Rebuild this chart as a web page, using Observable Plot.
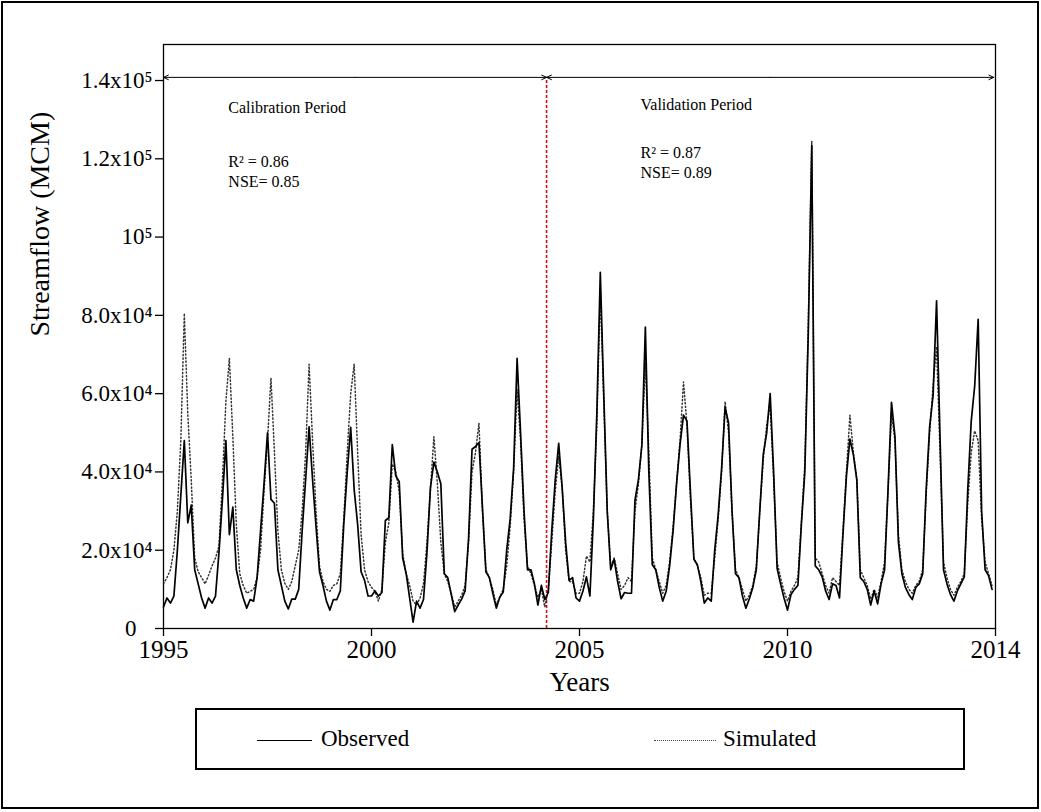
<!DOCTYPE html>
<html>
<head>
<meta charset="utf-8">
<script src="https://cdn.jsdelivr.net/npm/d3@7"></script>
<script src="https://cdn.jsdelivr.net/npm/@observablehq/plot@0.6"></script>
<style>
  html, body { margin: 0; padding: 0; background: #fff; }
  #wrap { position: relative; width: 1041px; height: 812px; overflow: hidden; font-family: "Liberation Serif", "Times New Roman", serif; }
  #border { position: absolute; left: 1px; top: 1px; width: 1038px; height: 808px; border: 2px solid #000; box-sizing: border-box; pointer-events: none; }
  #chart { position: absolute; left: 0; top: 0; }
  #legend { position: absolute; left: 195px; top: 708px; width: 770px; height: 62px; border: 2px solid #000; box-sizing: border-box; background: #fff; }
  .lg-line { position: absolute; top: 30px; height: 0; }
  .lg-text { position: absolute; top: 14px; font-size: 23px; line-height: 30px; color: #000; }
</style>
</head>
<body>
<div id="wrap">
  <div id="chart"></div>
  <div id="legend">
    <div class="lg-line" style="left:60px;width:55px;border-top:1.6px solid #000;"></div>
    <div class="lg-text" style="left:124px;">Observed</div>
    <div class="lg-line" style="left:457px;width:62px;border-top:1.5px dotted #444;"></div>
    <div class="lg-text" style="left:526px;">Simulated</div>
  </div>
  <div id="border"></div>
</div>
<script>
// Monthly streamflow (thousand MCM), Jan 1995 .. Dec 2014 (month index 0..239)
const observed = [
  5.5, 7.8, 6.5, 8.3, 20, 34, 48, 27, 31.5, 15, 11.4, 7.8,
  5.2, 7.8, 6.5, 8.3, 19.4, 33, 48, 24, 31, 15, 11, 7.8,
  5.2, 7.4, 7, 13, 25, 37, 50, 33, 32, 15, 11, 7,
  5, 7.5, 7.5, 10, 25, 38, 51.5, 38, 26, 14.5, 11, 7,
  4.7, 7.4, 7.4, 9.6, 26.6, 40, 51.4, 35.5, 26.6, 14.5, 12.3, 8.3,
  8.3, 9.6, 8.3, 9.2, 27.6, 28.3, 47, 39, 37.5, 18, 14, 7.8,
  1.6, 7, 5.2, 7.4, 19.4, 36, 42.5, 40, 37, 14, 13, 8.7,
  4.3, 6, 7.5, 9.6, 23, 45.8, 46.5, 47.5, 31, 14.5, 13, 9,
  5.2, 8, 9.3, 20, 28, 41, 69, 50, 30, 15, 15, 11.4,
  6, 11, 7.4, 9.2, 25, 38, 47.3, 36, 22, 12.3, 13, 7.8,
  7, 9.6, 13.2, 8.3, 28, 55, 91, 60, 30, 15, 17.7, 12,
  7.6, 9.2, 9, 9, 32.8, 38, 47, 77, 40, 16.3, 15, 10.5,
  7, 9.5, 16, 25, 37, 47, 54.5, 53, 35, 17.7, 16.3, 12,
  6.5, 7.8, 7, 20, 29, 41, 56.5, 52.5, 30, 14, 13, 8.3,
  5.2, 7.6, 10.5, 15, 30, 44.4, 50, 60, 40, 15.4, 11.4, 7.8,
  4.7, 8.7, 10, 11, 26.6, 40, 75.6, 123.4, 16, 15, 13.2, 9.6,
  7.4, 11.4, 11, 7.8, 24, 39, 48.4, 44.4, 38, 13, 12, 10,
  6, 9.6, 6.3, 11.4, 15, 35.5, 57.8, 49, 22, 14, 10.5, 8.7,
  7.4, 10.5, 11.4, 14, 35.5, 51.5, 59.6, 83.7, 49, 15, 11.4, 8.7,
  7, 9.6, 11.4, 13.2, 35.5, 53, 62, 79, 30, 15, 13.5, 10
];
const simulated = [
  11.4, 13, 15, 20, 30, 48, 80.5, 55, 38, 18, 14.5, 13,
  11.4, 13.6, 16, 18, 21, 38, 58, 69, 49, 26.6, 14, 11,
  9, 9.5, 10, 13, 20, 35, 48, 64, 45, 25, 15, 11.5,
  10, 12, 16, 20, 30, 45, 67.5, 48, 30, 16, 12, 10,
  9.5, 11, 11.4, 14, 28, 45, 60, 67.6, 45, 24, 15, 12,
  10.5, 9.5, 7, 10, 22, 27, 42, 40, 35, 19, 14, 11,
  7, 6, 7.8, 11.4, 22, 35.5, 49, 37, 22, 14, 12, 9,
  5.5, 7, 8.5, 11, 22, 40, 45, 52.5, 30, 15, 13, 10,
  6, 8, 10, 16, 26, 40, 61, 48, 28, 16, 14, 11,
  8, 10, 5.5, 10, 22, 35, 44, 36, 20, 12, 12, 9,
  9, 12, 18.5, 17, 30, 52, 86, 58, 30, 16, 18, 14,
  10, 11, 13, 12, 30, 37, 47, 68, 45, 18, 15, 12,
  9, 11, 17, 26, 37, 48, 63, 52, 33, 18, 16, 13,
  8.5, 9, 9, 18, 28, 40, 58, 50, 30, 15, 13, 10,
  7, 8.5, 11, 16, 30, 43, 52, 57, 38, 17, 13, 9.5,
  7, 9.5, 11, 13, 27, 42, 78, 124.5, 18, 17, 14, 11,
  9, 13, 12, 11, 25, 40, 54.5, 45, 38, 15, 13, 11,
  7.5, 10, 8, 12, 17, 35, 55, 48, 24, 15, 12, 10,
  9, 11, 12, 15, 34, 50, 62, 72, 45, 17, 13, 10,
  8.5, 10.5, 12, 14, 32, 45, 50.5, 48, 28, 17, 14, 11
];
const xTicks = [0, 60, 120, 180, 240];
const xTickLabels = ["1995", "2000", "2005", "2010", "2014"];
const yTicks = [0, 20, 40, 60, 80, 100, 120, 140];
const yTickLabels = ["0", "2.0x10\u2074", "4.0x10\u2074", "6.0x10\u2074", "8.0x10\u2074", "10\u2075", "1.2x10\u2075", "1.4x10\u2075"];
const splitMonth = [110.5];
const periodTop = 140.8;
const periods = [{from: 0, to: 110.5}, {from: 110.5, to: 239.5}];
const notes = [
  {x: 18.7, y: 133.1, text: "Calibration Period"},
  {x: 18.7, y: 119.3, text: "R\u00B2 = 0.86"},
  {x: 18.7, y: 114.2, text: "NSE= 0.85"},
  {x: 137.6, y: 133.9, text: "Validation Period"},
  {x: 137.6, y: 121.4, text: "R\u00B2 = 0.87"},
  {x: 137.6, y: 116.5, text: "NSE= 0.89"}
];

const obsData = observed.map((v, i) => ({m: i, v}));
const simData = simulated.map((v, i) => ({m: i, v}));
const arrows = periods.flatMap(p => {
  const mid = (p.from + p.to) / 2;
  return [{x1: mid, x2: p.from}, {x1: mid, x2: p.to}];
});
const yLabel = d => yTickLabels[yTicks.indexOf(d)];

const chart = Plot.plot({
  width: 1041,
  height: 700,
  marginLeft: 163,
  marginRight: 46,
  marginTop: 44,
  marginBottom: 72,
  style: {fontFamily: "'Liberation Serif', 'Times New Roman', serif", background: "transparent", color: "#000"},
  x: {domain: [0, 240]},
  y: {domain: [0, 149.2]},
  marks: [
    Plot.frame({stroke: "#000", strokeWidth: 1.3}),
    Plot.axisX({ticks: xTicks, tickFormat: d => xTickLabels[xTicks.indexOf(d)], tickSize: 8, tickPadding: 4, fontSize: 25, label: null, stroke: "#000", strokeWidth: 1.3}),
    Plot.axisY({ticks: yTicks.slice(1), tickFormat: yLabel, tickSize: 8, tickPadding: 3, fontSize: 23, label: null, stroke: "#000", strokeWidth: 1.3}),
    Plot.tickY(yTicks.slice(0, 1), {y: d => d, stroke: "#000", strokeWidth: 1.3, insetLeft: -8, insetRight: 832}),
    Plot.axisY({ticks: yTicks.slice(0, 1), tickFormat: yLabel, tickSize: 0, tickPadding: 27, fontSize: 23, label: null}),
    Plot.text(["Years"], {frameAnchor: "bottom", dy: 62, fontSize: 27, fill: "#000"}),
    Plot.text(["Streamflow (MCM)"], {frameAnchor: "left", dx: -123, rotate: -90, fontSize: 28, fill: "#000"}),
    Plot.ruleX(splitMonth, {y1: 0, y2: periodTop, stroke: "#cc1111", strokeWidth: 1.6, strokeDasharray: "3,2"}),
    Plot.arrow(arrows, {x1: "x1", x2: "x2", y1: periodTop, y2: periodTop, stroke: "#000", strokeWidth: 1, headLength: 8, headAngle: 50}),
    Plot.line(simData, {x: "m", y: "v", stroke: "#333", strokeWidth: 1.5, strokeDasharray: "1.2,2.4"}),
    Plot.line(obsData, {x: "m", y: "v", stroke: "#000", strokeWidth: 1.7}),
    Plot.text(notes, {x: "x", y: "y", text: "text", textAnchor: "start", fontSize: 16, fill: "#000"})
  ]
});
document.getElementById("chart").appendChild(chart);
</script>
</body>
</html>
